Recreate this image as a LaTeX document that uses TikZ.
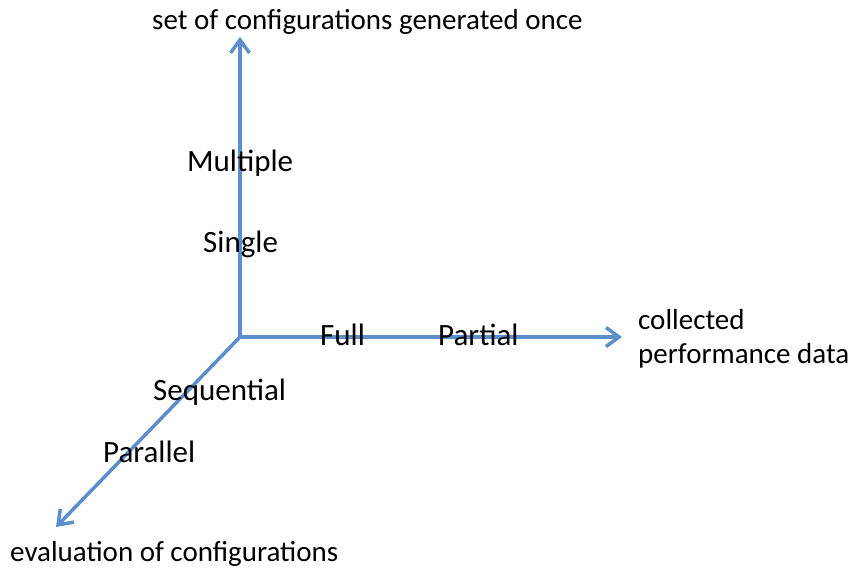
\documentclass[tikz,border=0pt]{standalone}
\usepackage{fontspec}
\setmainfont{Carlito}
\usetikzlibrary{arrows.meta}
\definecolor{axisblue}{HTML}{5B8FCB}
\begin{document}
\begin{tikzpicture}[x=1pt,y=-1pt,
  axis/.style={draw=axisblue,line width=3.5pt,line cap=round,line join=round,
    -{Straight Barb[length=13pt,width=19pt,line width=3.5pt]}},
  title/.style={font=\fontsize{29}{35}\selectfont,inner sep=0pt,text=black,anchor=base west},
  lbl/.style={font=\fontsize{31}{37}\selectfont,inner sep=0pt,text=black,anchor=base west}]
\useasboundingbox (0,0) rectangle (850,569);
\coordinate (o) at (240,337);
\coordinate (ytip) at (240,37);
\coordinate (xtip) at (622,337);
\coordinate (ztip) at (56,527);
\draw[axis] (o) -- (ytip);
\draw[axis] (o) -- (xtip);
\draw[axis] (o) -- (ztip);
\node[title] (ytitle) at (152,30) {set of configurations generated once};
\node[lbl] (multiple) at (187,172) {Multiple};
\node[lbl] (single) at (203,252) {Single};
\node[lbl] (full) at (320,345) {Full};
\node[lbl] (partial) at (438,345) {Partial};
\node[title] (xtitle1) at (638,329) {collected};
\node[title] (xtitle2) at (638,363) {performance data};
\node[lbl] (sequential) at (153,400) {Sequential};
\node[lbl] (parallel) at (103,462) {Parallel};
\node[title] (ztitle) at (10,561) {evaluation of configurations};
\end{tikzpicture}
\end{document}
